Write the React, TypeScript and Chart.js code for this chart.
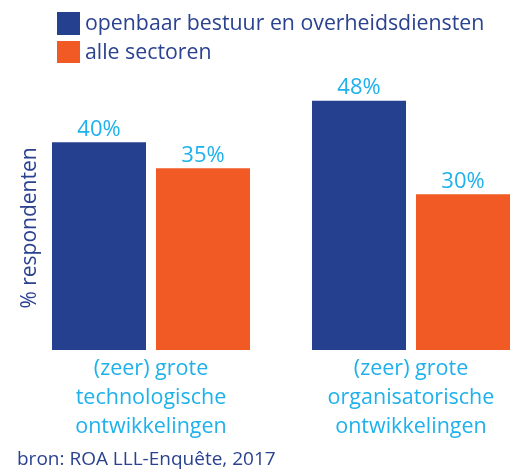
import React, { useEffect, useRef } from 'react';
import { Chart, registerables } from 'chart.js';

Chart.register(...registerables);

const categories = [
  ['(zeer) grote', 'technologische', 'ontwikkelingen'],
  ['(zeer) grote', 'organisatorische', 'ontwikkelingen'],
];
const seriesNames = ['openbaar bestuur en overheidsdiensten', 'alle sectoren'];
const overheidValues = [40, 48];
const alleSectorenValues = [35, 30];
const yAxisTitle = '% respondenten';
const sourceText = 'bron: ROA LLL-Enquête, 2017';

const BLUE = '#25408F';
const ORANGE = '#F15A24';
const CYAN = '#1FB1EB';
const TEXT = '#2B4291';
const FONT = '"Open Sans", sans-serif';

const valueLabels = {
  id: 'valueLabels',
  afterDatasetsDraw(chart: any) {
    const ctx = chart.ctx;
    ctx.save();
    ctx.font = `22px ${FONT}`;
    ctx.fillStyle = CYAN;
    ctx.textAlign = 'center';
    ctx.textBaseline = 'alphabetic';
    chart.data.datasets.forEach((ds: any, i: number) => {
      chart.getDatasetMeta(i).data.forEach((bar: any, j: number) => {
        ctx.fillText(ds.data[j] + '%', bar.x, bar.y - 6.5);
      });
    });
    ctx.restore();
  },
};

const legendAndSource = {
  id: 'legendAndSource',
  afterDraw(chart: any) {
    const ctx = chart.ctx;
    ctx.save();
    ctx.font = `21.3px ${FONT}`;
    ctx.textAlign = 'left';
    ctx.textBaseline = 'alphabetic';
    const rows = [
      { y: 12, h: 23, base: 30 },
      { y: 41, h: 22, base: 59 },
    ];
    chart.data.datasets.forEach((ds: any, i: number) => {
      const r = rows[i];
      ctx.fillStyle = ds.backgroundColor;
      ctx.fillRect(57, r.y, 23, r.h);
      ctx.fillStyle = TEXT;
      ctx.fillText(ds.label, 85, r.base);
    });
    ctx.font = `19px ${FONT}`;
    ctx.fillStyle = TEXT;
    ctx.fillText(sourceText, 17, 465);
    ctx.restore();
  },
};

export default function App() {
  const ref = useRef<HTMLCanvasElement>(null);
  useEffect(() => {
    if (!ref.current) return;
    const chart = new Chart(ref.current, {
      type: 'bar',
      data: {
        labels: categories,
        datasets: [
          { label: seriesNames[0], data: overheidValues, backgroundColor: BLUE, clip: false as any },
          { label: seriesNames[1], data: alleSectorenValues, backgroundColor: ORANGE, clip: false as any },
        ],
      },
      options: {
        responsive: false,
        animation: false,
        categoryPercentage: 0.8,
        barPercentage: 0.904,
        layout: { padding: { left: 13, right: 105, top: 106, bottom: 0 } },
        plugins: {
          legend: { display: false },
          tooltip: { enabled: false },
          title: { display: false },
        },
        scales: {
          x: {
            offset: false,
            grid: { display: false, drawTicks: false },
            border: { display: false },
            ticks: {
              color: CYAN,
              font: { family: FONT, size: 21.5, lineHeight: 1.33 },
              padding: 5,
              maxRotation: 0,
              autoSkip: false,
            },
            afterFit: (scale: any) => {
              scale.height = 120;
            },
          },
          y: {
            min: 0,
            max: 47,
            grid: { display: false, drawTicks: false },
            border: { display: false },
            ticks: { display: false },
            title: {
              display: true,
              text: yAxisTitle,
              color: TEXT,
              font: { family: FONT, size: 21 },
              padding: 4,
            },
            afterFit: (scale: any) => {
              scale.width = 138;
            },
          },
        },
      } as any,
      plugins: [valueLabels, legendAndSource],
    });
    return () => chart.destroy();
  }, []);
  return (
    <div style={{ position: 'fixed', left: 0, top: 0, width: 516, height: 470, background: '#fff' }}>
      <canvas ref={ref} width={516} height={470} style={{ display: 'block' }} />
    </div>
  );
}
